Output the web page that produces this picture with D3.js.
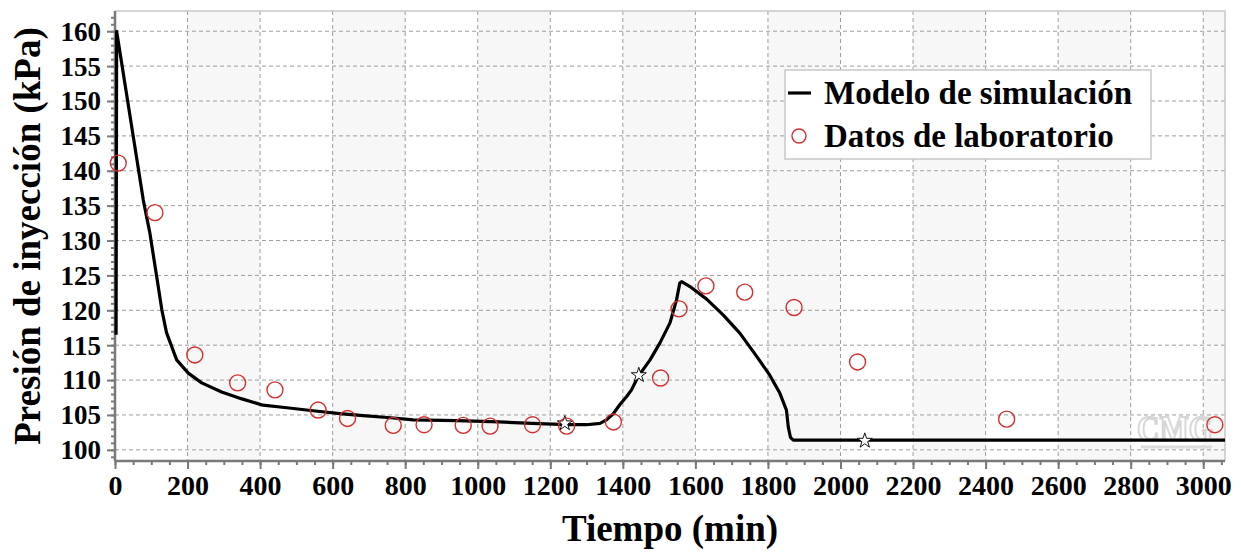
<!DOCTYPE html>
<html>
<head>
<meta charset="utf-8">
<script src="https://cdn.jsdelivr.net/npm/d3@7"></script>
<style>
  body { margin: 0; background: #fff; }
  text { font-family: "Liberation Serif", "Times New Roman", serif; font-weight: bold; }
</style>
</head>
<body>
<svg id="chart" width="1241" height="553"></svg>
<script>
// simulation curve (Modelo de simulación)
var simTime = [3, 4.5, 78, 96, 115, 129, 142, 170, 202, 239, 294, 350, 408, 480, 546, 620, 684, 760, 822, 942,
               1060, 1150, 1245, 1300, 1337, 1355, 1374, 1392, 1410, 1424, 1442, 1475, 1502, 1530, 1548, 1557,
               1562, 1585, 1631, 1677, 1723, 1769, 1805, 1833, 1851, 1856, 1862, 1870, 3060];
var simPressure = [116.5, 160, 135.8, 131.1, 124.8, 120.1, 116.8, 112.9, 111.0, 109.6, 108.3, 107.3, 106.4, 106.0,
                   105.6, 105.2, 104.9, 104.6, 104.3, 104.2, 104.0, 103.8, 103.6, 103.6, 103.8, 104.3, 105.2,
                   106.5, 107.6, 108.6, 110.5, 112.9, 115.3, 118.2, 121.5, 123.9, 124.1, 123.4, 121.6, 119.3,
                   116.7, 113.4, 110.7, 108.1, 105.7, 103.3, 101.8, 101.4, 101.4];

// lab measurements (Datos de laboratorio)
var labTime = [9, 110, 220, 338, 441, 560, 641, 767, 852, 960, 1034, 1151, 1245, 1374, 1504, 1555, 1629, 1736,
               1872, 2047, 2458, 3032];
var labPressure = [141.1, 134.0, 113.6, 109.6, 108.6, 105.7, 104.5, 103.5, 103.6, 103.5, 103.4, 103.6, 103.4,
                   104.0, 110.3, 120.2, 123.5, 122.6, 120.4, 112.6, 104.4, 103.6];

// star markers on the simulation curve
var starTime = [1240, 1444, 2067];
var starPressure = [103.8, 110.7, 101.3];

var xTicks = d3.range(0, 3001, 200);
var yTicks = d3.range(100, 161, 5);

var svg = d3.select("#chart");
var pl = 115, pr = 1225, pt = 11, pb = 461;

var x = d3.scaleLinear().domain([0, 3060]).range([pl, pr]);
var y = d3.scaleLinear().domain([98.4, 162.9]).range([pb, pt]);

// alternating vertical bands
var bands = d3.range(200, 3060, 400).map(function (s) { return [s, Math.min(s + 200, 3060)]; });
svg.append("g").selectAll("rect")
    .data(bands).enter().append("rect")
    .attr("x", d => x(d[0]))
    .attr("y", pt)
    .attr("width", d => x(d[1]) - x(d[0]))
    .attr("height", pb - pt)
    .attr("fill", "#f7f7f7");

// grid
var grid = svg.append("g").attr("stroke", "#9e9e9e").attr("stroke-dasharray", "4,3").attr("stroke-width", 1);
grid.selectAll("line.v").data(xTicks.slice(1)).enter().append("line")
    .attr("x1", d => x(d)).attr("x2", d => x(d)).attr("y1", pt).attr("y2", pb);
grid.selectAll("line.h").data(yTicks).enter().append("line")
    .attr("x1", pl).attr("x2", pr).attr("y1", d => y(d)).attr("y2", d => y(d));

// frame top/right
svg.append("path")
    .attr("d", "M" + pl + "," + pt + "H" + pr + "V" + pb)
    .attr("fill", "none").attr("stroke", "#c8c8c8").attr("stroke-width", 1.5);

// axes
var xAxis = svg.append("g").attr("transform", "translate(0," + pb + ")");
xAxis.call(d3.axisBottom(x).tickValues(d3.range(0, 3060, 50)).tickSize(4).tickFormat(""));
xAxis.call(g => g.select(".domain").remove());
var xMaj = svg.append("g").attr("transform", "translate(0," + pb + ")")
    .call(d3.axisBottom(x).tickValues(xTicks).tickSize(8).tickPadding(6).tickFormat(d3.format("d")));
xMaj.select(".domain").attr("d", "M" + pl + ",0H" + pr);

var yAxis = svg.append("g").attr("transform", "translate(" + pl + ",0)");
yAxis.call(d3.axisLeft(y).tickValues(d3.range(99, 163, 1)).tickSize(4).tickFormat(""));
yAxis.call(g => g.select(".domain").remove());
var yMaj = svg.append("g").attr("transform", "translate(" + pl + ",0)")
    .call(d3.axisLeft(y).tickValues(yTicks).tickSize(8).tickPadding(6).tickFormat(d3.format("d")));
yMaj.select(".domain").attr("d", "M0," + pt + "V" + pb);

svg.selectAll(".tick line, .domain").attr("stroke", "#7a7a7a").attr("stroke-width", 2);
svg.selectAll(".domain").attr("stroke-width", 2.5);
xMaj.selectAll(".tick text").attr("font-size", 28).attr("fill", "#000")
    .attr("font-family", "Liberation Serif").attr("font-weight", "bold").attr("dy", "0.72em");
yMaj.selectAll(".tick text").attr("font-size", 27).attr("fill", "#000")
    .attr("font-family", "Liberation Serif").attr("font-weight", "bold").attr("dy", "0.33em");

// watermark
var wm = svg.append("g");
wm.append("text").attr("x", 1137).attr("y", 441).attr("font-size", 36)
    .attr("textLength", 76).attr("lengthAdjust", "spacingAndGlyphs")
    .attr("font-family", "Liberation Sans").attr("font-weight", "normal")
    .attr("fill", "none").attr("stroke", "#d6d6d6").attr("stroke-width", 2).text("CMG");
wm.append("line").attr("x1", 1141).attr("x2", 1212).attr("y1", 447).attr("y2", 447)
    .attr("stroke", "#dcdcdc").attr("stroke-width", 3);

// simulation line
var simData = simTime.map((t, i) => [t, simPressure[i]]);
svg.append("path")
    .datum(simData)
    .attr("fill", "none")
    .attr("stroke", "#000")
    .attr("stroke-width", 3.2)
    .attr("stroke-linejoin", "round")
    .attr("d", d3.line().x(d => x(d[0])).y(d => y(d[1])));

// star markers
svg.append("g").selectAll("path")
    .data(starTime.map((t, i) => [t, starPressure[i]])).enter().append("path")
    .attr("transform", d => "translate(" + x(d[0]) + "," + y(d[1]) + ")")
    .attr("d", d3.symbol().type(d3.symbolStar).size(70))
    .attr("fill", "#fff").attr("stroke", "#111").attr("stroke-width", 1);

// lab points
svg.append("g").selectAll("circle")
    .data(labTime.map((t, i) => [t, labPressure[i]])).enter().append("circle")
    .attr("cx", d => x(d[0]))
    .attr("cy", d => y(d[1]))
    .attr("r", 8)
    .attr("fill", "none")
    .attr("stroke", "#d42f2f")
    .attr("stroke-width", 1.4);

// legend
var lg = svg.append("g");
lg.append("rect").attr("x", 785).attr("y", 70).attr("width", 366).attr("height", 89)
    .attr("fill", "#fff").attr("stroke", "#c8c8c8").attr("stroke-width", 1.5);
lg.append("line").attr("x1", 788).attr("x2", 811).attr("y1", 93).attr("y2", 93)
    .attr("stroke", "#000").attr("stroke-width", 3.2);
lg.append("circle").attr("cx", 799).attr("cy", 136).attr("r", 7)
    .attr("fill", "none").attr("stroke", "#d42f2f").attr("stroke-width", 1.4);
lg.append("text").attr("x", 824).attr("y", 104).attr("font-size", 33).text("Modelo de simulación");
lg.append("text").attr("x", 824).attr("y", 147).attr("font-size", 33).text("Datos de laboratorio");

// axis titles
svg.append("text").attr("x", 670).attr("y", 541).attr("text-anchor", "middle")
    .attr("font-size", 37).text("Tiempo (min)");
svg.append("text").attr("transform", "translate(40,236) rotate(-90)").attr("text-anchor", "middle")
    .attr("font-size", 37).text("Presión de inyección (kPa)");
</script>
</body>
</html>
